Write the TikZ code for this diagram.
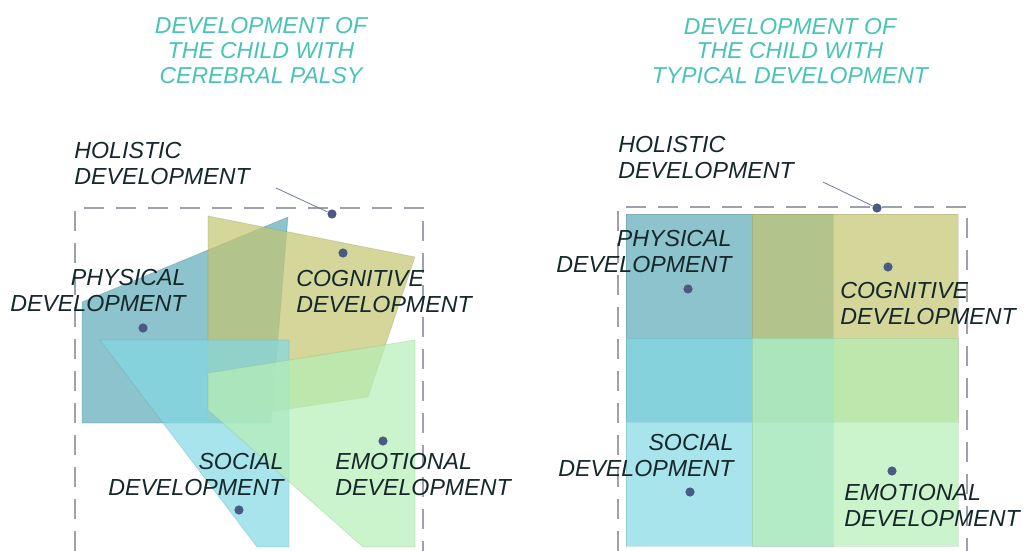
\documentclass[tikz,border=0pt]{standalone}
\usepackage{fontspec}
\setmainfont{Liberation Sans}
\usetikzlibrary{positioning}

\definecolor{physcol}{HTML}{5BAAB6}
\definecolor{cogcol}{HTML}{C2C46F}
\definecolor{soccol}{HTML}{83D8E4}
\definecolor{emocol}{HTML}{B6EFB6}
\definecolor{titlecol}{HTML}{48C4B4}
\definecolor{labelcol}{HTML}{15272A}
\definecolor{dotcol}{HTML}{4B5A84}
\definecolor{framecol}{HTML}{9CA1AB}

\begin{document}
\begin{tikzpicture}[
  x=0.5pt, y=-0.5pt,
  area/.style={fill=#1, fill opacity=0.7, draw=#1!70!black, draw opacity=0.25, line width=0.4pt},
  frame/.style={draw=framecol, line width=1pt, dash pattern=on 10pt off 6pt},
  dot/.style={circle, fill=dotcol, inner sep=0pt, minimum size=4.6pt},
  lbl/.style={inner sep=0pt, text=labelcol, font=\itshape\fontsize{11.6}{13}\selectfont},
  ttl/.style={inner sep=0pt, align=center, text=titlecol, font=\itshape\fontsize{11.5}{12.3}\selectfont},
  lead/.style={draw=dotcol!80, line width=0.4pt},
]
\useasboundingbox (0,0) rectangle (1024,551);

% titles
\node[ttl] (titleL) at (261,50.5) {DEVELOPMENT OF\\THE CHILD WITH\\CEREBRAL PALSY};
\node[ttl] (titleR) at (790,51) {DEVELOPMENT OF\\THE CHILD WITH\\TYPICAL DEVELOPMENT};

% cerebral palsy: overlapping areas
\draw[frame] (75,551) -- (75,208) -- (423,208) -- (423,551);
\draw[area=physcol] (82,302) -- (288,217) -- (271,423) -- (82,423) -- cycle;
\draw[area=cogcol] (208,216) -- (415,257) -- (368,397) -- (208,421) -- cycle;
\draw[area=soccol] (100,340) -- (289,340) -- (289,547) -- (257,547) -- cycle;
\draw[area=emocol] (208,373) -- (415,340) -- (415,547) -- (363,547) -- (208,410) -- cycle;

\node[dot] (holL-dot) at (332,214) {};
\node[dot] (physL-dot) at (143,328) {};
\node[dot] (cogL-dot) at (343,253) {};
\node[dot] (socL-dot) at (239,510) {};
\node[dot] (emoL-dot) at (383,441) {};

\node[lbl, align=left, anchor=west] (holL) at (74,163.5) {HOLISTIC\\DEVELOPMENT};
\node[lbl, align=right, anchor=east] (physL) at (186,290.5) {PHYSICAL\\DEVELOPMENT};
\node[lbl, align=left, anchor=west] (cogL) at (296,291.5) {COGNITIVE\\DEVELOPMENT};
\node[lbl, align=right, anchor=east] (socL) at (284,475) {SOCIAL\\DEVELOPMENT};
\node[lbl, align=left, anchor=west] (emoL) at (335,475) {EMOTIONAL\\DEVELOPMENT};

\coordinate (holL-tip) at (276,188);
\draw[lead] (holL-tip) -- (holL-dot);

% typical development: grid of areas
\draw[frame] (618,551) -- (618,207) -- (967,207) -- (967,551);
\draw[area=physcol] (626,214) rectangle (833,422);
\draw[area=cogcol] (752,214) rectangle (958,422);
\draw[area=soccol] (626,338) rectangle (833,546);
\draw[area=emocol] (752,338) rectangle (958,546);

\node[dot] (holR-dot) at (877,208) {};
\node[dot] (physR-dot) at (688,289) {};
\node[dot] (cogR-dot) at (888,267) {};
\node[dot] (socR-dot) at (690,492) {};
\node[dot] (emoR-dot) at (892,471) {};

\node[lbl, align=left, anchor=west] (holR) at (618,158) {HOLISTIC\\DEVELOPMENT};
\node[lbl, align=right, anchor=east] (physR) at (732,251.5) {PHYSICAL\\DEVELOPMENT};
\node[lbl, align=left, anchor=west] (cogR) at (840,304) {COGNITIVE\\DEVELOPMENT};
\node[lbl, align=right, anchor=east] (socR) at (734,456) {SOCIAL\\DEVELOPMENT};
\node[lbl, align=left, anchor=west] (emoR) at (844,505.5) {EMOTIONAL\\DEVELOPMENT};

\coordinate (holR-tip) at (823,182);
\draw[lead] (holR-tip) -- (holR-dot);
\end{tikzpicture}
\end{document}
